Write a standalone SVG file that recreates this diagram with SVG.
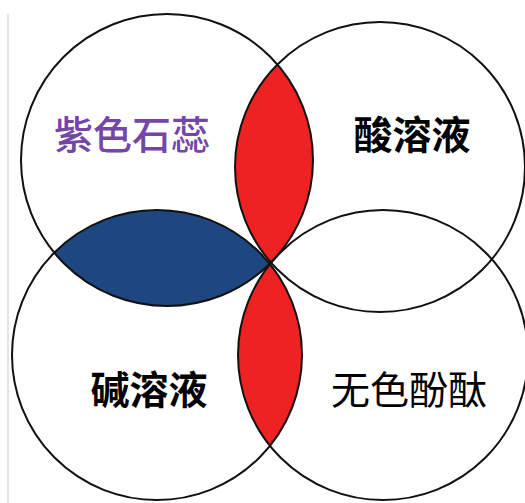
<svg xmlns="http://www.w3.org/2000/svg" width="525" height="503" viewBox="0 0 525 503">
<style>
.ring{fill:none;stroke:#111;stroke-width:2}
.lbl{font-family:"Noto Sans CJK SC","Noto Sans CJK JP",sans-serif;font-size:39px;text-anchor:middle}
</style>
<defs>
<clipPath id="cTL"><circle cx="167" cy="160" r="146"/></clipPath>
<clipPath id="cBL"><circle cx="157" cy="355" r="145"/></clipPath>
</defs>
<rect width="525" height="503" fill="#fff"/>
<line x1="8" y1="14" x2="8" y2="503" stroke="#e4e4e4" stroke-width="2"/>
<g id="fills">
<circle cx="380" cy="167" r="145" fill="#ee2222" clip-path="url(#cTL)"/>
<circle cx="383" cy="355" r="145" fill="#ee2222" clip-path="url(#cBL)"/>
<circle cx="157" cy="355" r="145" fill="#1e4680" clip-path="url(#cTL)"/>
</g>
<g id="litmus"><circle class="ring" cx="167" cy="160" r="146"/><text class="lbl" x="132" y="149" fill="#7446a8" font-weight="500">紫色石蕊</text></g>
<g id="acid"><circle class="ring" cx="380" cy="167" r="145"/><text class="lbl" x="412" y="149" fill="#000" font-weight="bold">酸溶液</text></g>
<g id="base"><circle class="ring" cx="157" cy="355" r="145"/><text class="lbl" x="149" y="404" fill="#000" font-weight="bold">碱溶液</text></g>
<g id="phenol"><circle class="ring" cx="383" cy="355" r="145"/><text class="lbl" x="409" y="404" fill="#000">无色酚酞</text></g>
<g id="connectors"/>
</svg>
